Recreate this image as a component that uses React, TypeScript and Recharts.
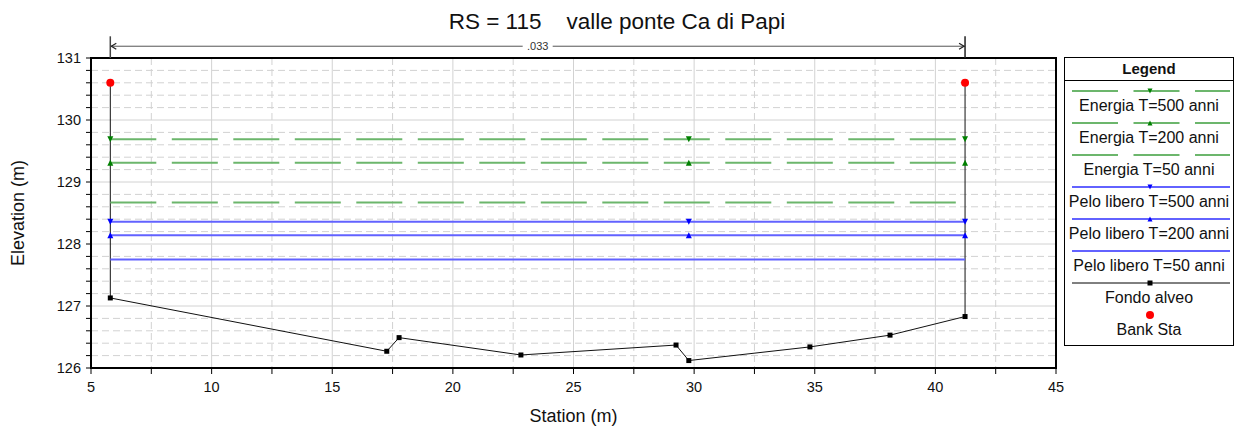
import React from 'react';
import {
  ComposedChart, Line, Scatter, XAxis, YAxis, CartesianGrid, ReferenceLine, ReferenceArea,
} from 'recharts';

const FONT = '"Liberation Sans", Arial, sans-serif';

// ground profile (Fondo alveo), station / elevation
const groundStation = [5.8, 5.8, 17.26, 17.77, 22.82, 29.25, 29.78, 34.8, 38.12, 41.23, 41.23];
const groundElev = [130.6, 127.13, 126.27, 126.49, 126.21, 126.37, 126.12, 126.34, 126.53, 126.83, 130.6];

// water surfaces: left bank, thalweg, right bank
const wsStation = [5.8, 29.78, 41.23];
const energia500 = [129.69, 129.69, 129.69];
const energia200 = [129.31, 129.31, 129.31];
const energia50 = [128.67, 128.67, 128.67];
const pelo500 = [128.36, 128.36, 128.36];
const pelo200 = [128.14, 128.14, 128.14];
const pelo50 = [127.75, 127.75, 127.75];

const bankStation = [5.8, 41.23];
const bankElev = [130.6, 130.6];

const manningN = '.033';

const xTicks = [5, 7.5, 10, 12.5, 15, 17.5, 20, 22.5, 25, 27.5, 30, 32.5, 35, 37.5, 40, 42.5, 45];
const yTicks = [
  126, 126.2, 126.4, 126.6, 126.8, 127, 127.2, 127.4, 127.6, 127.8, 128, 128.2, 128.4,
  128.6, 128.8, 129, 129.2, 129.4, 129.6, 129.8, 130, 130.2, 130.4, 130.6, 130.8, 131,
];
const xMajor = [10, 15, 20, 25, 30, 35, 40];
const xMinor = [7.5, 12.5, 17.5, 22.5, 27.5, 32.5, 37.5, 42.5];
const yMajor = [127, 128, 129, 130];
const yMinor = yTicks.filter((v) => !Number.isInteger(v));

const GREEN = '#6cb66c';
const DGREEN = '#008000';
const BLUE = '#6262ff';
const DBLUE = '#0000ff';
const DASH = '46 15.5';

const toPoints = (xs: number[], ys: number[]) => xs.map((x, i) => ({ x, y: ys[i] }));

type Marker = 'down' | 'up' | 'none';
const wsSeries: { name: string; values: number[]; color: string; mark: string; dash?: string; marker: Marker }[] = [
  { name: 'Energia T=500 anni', values: energia500, color: GREEN, mark: DGREEN, dash: DASH, marker: 'down' },
  { name: 'Energia T=200 anni', values: energia200, color: GREEN, mark: DGREEN, dash: DASH, marker: 'up' },
  { name: 'Energia T=50 anni', values: energia50, color: GREEN, mark: DGREEN, dash: DASH, marker: 'none' },
  { name: 'Pelo libero T=500 anni', values: pelo500, color: BLUE, mark: DBLUE, marker: 'down' },
  { name: 'Pelo libero T=200 anni', values: pelo200, color: BLUE, mark: DBLUE, marker: 'up' },
  { name: 'Pelo libero T=50 anni', values: pelo50, color: BLUE, mark: DBLUE, marker: 'none' },
];

function triPath(cx: number, cy: number, dir: Marker, s = 3) {
  return dir === 'down'
    ? `M${cx - s},${cy - s}L${cx + s},${cy - s}L${cx},${cy + s}Z`
    : `M${cx - s},${cy + s}L${cx + s},${cy + s}L${cx},${cy - s}Z`;
}

// dimension line above the plot carrying Manning's n
function ManningLine(props: any) {
  const { x1, y1, x2, y2 } = props;
  const mid = (x1 + x2) / 2;
  return (
    <g>
      <line x1={x1} y1={y1} x2={x2} y2={y2} stroke="#555" strokeWidth={1} />
      <path d={`M${x1 + 6},${y1 - 3}L${x1 + 1},${y1}L${x1 + 6},${y1 + 3}`} fill="none" stroke="#222" strokeWidth={1.2} />
      <path d={`M${x2 - 6},${y2 - 3}L${x2 - 1},${y2}L${x2 - 6},${y2 + 3}`} fill="none" stroke="#222" strokeWidth={1.2} />
      <rect x={mid - 15} y={y1 - 6} width={30} height={12} fill="#fff" />
      <text x={mid} y={y1} dy={4} textAnchor="middle" fontSize={11} fontFamily={FONT} fill="#333">{manningN}</text>
    </g>
  );
}

function LegendBox() {
  const rows = [
    ...wsSeries.map((s) => ({ name: s.name, color: s.color, mark: s.mark, dash: s.dash, marker: s.marker as string })),
    { name: 'Fondo alveo', color: '#000', mark: '#000', dash: undefined, marker: 'square' },
    { name: 'Bank Sta', color: 'none', mark: '#ff0000', dash: undefined, marker: 'dot' },
  ];
  return (
    <div style={{
      position: 'absolute', left: 1064, top: 57, width: 170, height: 289, boxSizing: 'border-box',
      border: '1px solid #000', background: '#fff', fontFamily: FONT, color: '#111',
    }}>
      <div style={{ height: 22, borderBottom: '1px solid #000', textAlign: 'center', fontWeight: 'bold', fontSize: 15, lineHeight: '22px' }}>
        Legend
      </div>
      {rows.map((r, i) => (
        <React.Fragment key={r.name}>
          <svg width={158} height={10} style={{ position: 'absolute', left: 7, top: 28 + 32 * i }}>
            {r.color !== 'none' && (
              <line x1={0} y1={5} x2={158} y2={5} stroke={r.color} strokeWidth={r.color === '#000' ? 1 : 2} strokeDasharray={r.dash} />
            )}
            {(r.marker === 'down' || r.marker === 'up') && <path d={triPath(78, 5, r.marker as Marker, 2.5)} fill={r.mark} />}
            {r.marker === 'square' && <rect x={75.5} y={2.5} width={5} height={5} fill="#000" />}
            {r.marker === 'dot' && <circle cx={78} cy={5} r={4} fill={r.mark} />}
          </svg>
          <div style={{
            position: 'absolute', left: 0, width: 168, top: 39 + 32 * i, height: 18, lineHeight: '18px',
            textAlign: 'center', fontSize: 16, whiteSpace: 'nowrap',
          }}>
            {r.name}
          </div>
        </React.Fragment>
      ))}
    </div>
  );
}

export default function App() {
  const nLevel = 131.19;
  const nTop = 131.35;
  return (
    <div style={{ position: 'absolute', left: 0, top: 0, width: 1234, height: 438, background: '#fff', fontFamily: FONT }}>
      <div style={{
        position: 'absolute', left: 0, top: 9, width: 1234, textAlign: 'center', fontSize: 22.5,
        whiteSpace: 'pre', color: '#111',
      }}>
        {'RS = 115    valle ponte Ca di Papi'}
      </div>
      <ComposedChart width={1234} height={438} margin={{ top: 58, right: 178, left: 0, bottom: 0 }}>
        <CartesianGrid horizontalValues={yMinor} verticalValues={xMinor} stroke="#d2d2d2" strokeDasharray="7 4" />
        <CartesianGrid horizontalValues={yMajor} verticalValues={xMajor} stroke="#d2d2d2" />
        <XAxis
          type="number" dataKey="x" domain={[5, 45]} ticks={xTicks} interval={0} height={70}
          tickFormatter={(v: number) => (v % 5 === 0 ? String(v) : '')}
          axisLine={{ stroke: '#000', strokeWidth: 2 }} tickLine={{ stroke: '#000' }} tickSize={6} tickMargin={8}
          tick={{ fill: '#111', fontSize: 14.5, fontFamily: FONT }}
          label={{ value: 'Station (m)', position: 'insideBottom', offset: 16, fill: '#111', fontSize: 18, fontFamily: FONT }}
        />
        <YAxis
          type="number" dataKey="y" domain={[126, 131]} ticks={yTicks} interval={0} width={91}
          tickFormatter={(v: number) => (Number.isInteger(v) ? String(v) : '')}
          axisLine={{ stroke: '#000', strokeWidth: 2 }} tickLine={{ stroke: '#000' }} tickSize={5} tickMargin={5}
          tick={{ fill: '#111', fontSize: 14.5, fontFamily: FONT }}
          label={{
            value: 'Elevation (m)', angle: -90, position: 'insideLeft', offset: 18,
            style: { textAnchor: 'middle' }, fill: '#111', fontSize: 18, fontFamily: FONT,
          }}
        />
        <ReferenceArea x1={5} x2={45} y1={126} y2={131} fill="none" stroke="#000" strokeWidth={2} ifOverflow="visible" />

        <Line
          data={toPoints(groundStation, groundElev)} dataKey="y" stroke="#111" strokeWidth={1}
          isAnimationActive={false}
          dot={(p: any) => <rect key={`g${p.index}`} x={p.cx - 2.5} y={p.cy - 2.5} width={5} height={5} fill="#000" />}
        />
        {wsSeries.map((s) => (
          <Line
            key={s.name}
            data={toPoints(wsStation, s.values)} dataKey="y" stroke={s.color} strokeWidth={2}
            strokeDasharray={s.dash} isAnimationActive={false}
            dot={s.marker === 'none' ? false : (p: any) => <path key={`${s.name}${p.index}`} d={triPath(p.cx, p.cy, s.marker)} fill={s.mark} />}
          />
        ))}
        <Scatter
          data={toPoints(bankStation, bankElev)} dataKey="y" isAnimationActive={false}
          shape={(p: any) => <circle cx={p.cx} cy={p.cy} r={4} fill="#ff0000" />}
        />

        <ReferenceLine
          segment={[{ x: bankStation[0], y: nLevel }, { x: bankStation[1], y: nLevel }]}
          ifOverflow="visible" shape={<ManningLine />}
        />
        <ReferenceLine segment={[{ x: bankStation[0], y: 131 }, { x: bankStation[0], y: nTop }]} ifOverflow="visible" stroke="#444" strokeWidth={1.5} />
        <ReferenceLine segment={[{ x: bankStation[1], y: 131 }, { x: bankStation[1], y: nTop }]} ifOverflow="visible" stroke="#222" strokeWidth={1.5} />
      </ComposedChart>
      <LegendBox />
    </div>
  );
}
